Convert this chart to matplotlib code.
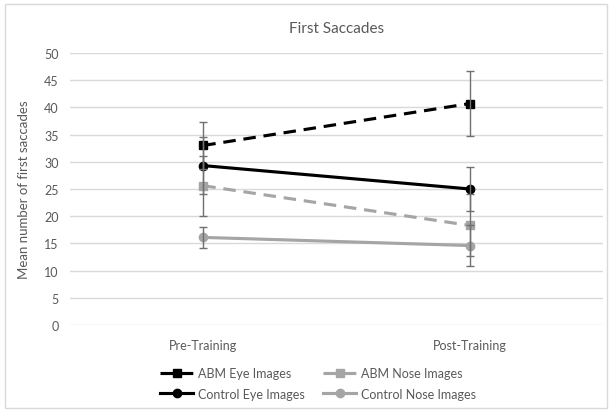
import matplotlib
matplotlib.use("Agg")
import matplotlib.pyplot as plt
from matplotlib.patches import Rectangle

plt.rcParams['font.family'] = ['Lato', 'DejaVu Sans']

phases = ['Pre-Training', 'Post-Training']

abm_eye = [33.0, 40.7]
abm_eye_err = [4.4, 5.9]
abm_nose = [25.6, 18.3]
abm_nose_err = [5.5, 5.7]
ctrl_eye = [29.3, 25.0]
ctrl_eye_err = [5.3, 4.0]
ctrl_nose = [16.1, 14.6]
ctrl_nose_err = [1.9, 3.7]

BLACK = '#000000'
GRAY = '#a5a5a5'
ERR = '#707070'
TXT = '#595959'

fig = plt.figure(figsize=(6.12, 4.14), dpi=100)
fig.patches.append(Rectangle((0.008, 0.012), 0.984, 0.976, transform=fig.transFigure,
                             fill=False, edgecolor='#d9d9d9', lw=1))
ax = fig.add_axes([0.1144, 0.2126, 0.871, 0.657])

x = list(range(len(phases)))
series = [
    ('ABM Eye Images', abm_eye, abm_eye_err, BLACK, 's', (4, 2.5)),
    ('ABM Nose Images', abm_nose, abm_nose_err, GRAY, 's', (4, 2.5)),
    ('Control Eye Images', ctrl_eye, ctrl_eye_err, BLACK, 'o', None),
    ('Control Nose Images', ctrl_nose, ctrl_nose_err, GRAY, 'o', None),
]

handles = {}
for name, vals, err, col, mk, dash in series:
    ax.errorbar(x, vals, yerr=err, fmt='none', ecolor=ERR, elinewidth=1,
                capsize=3, capthick=1, zorder=4)
    ln, = ax.plot(x, vals, color=col, lw=2.25, marker=mk, markersize=6,
                  label=name, zorder=3)
    if dash:
        ln.set_dashes(dash)
    handles[name] = ln

ax.set_xlim(-0.5, 1.5)
ax.set_ylim(0, 50)
ax.set_yticks(range(0, 51, 5))
ax.set_xticks(x)
ax.set_xticklabels(phases)
ax.yaxis.grid(True, color='#d9d9d9', lw=1)
ax.set_axisbelow(True)
for s in ax.spines.values():
    s.set_visible(False)
ax.tick_params(axis='both', length=0, labelsize=9, labelcolor=TXT, pad=8)
ax.tick_params(axis='x', pad=10)
ax.set_ylabel('Mean number of first saccades', fontsize=9.5, color=TXT, labelpad=10)
ax.set_title('First Saccades', fontsize=11, color=TXT, pad=15)

order = ['ABM Eye Images', 'Control Eye Images', 'ABM Nose Images', 'Control Nose Images']
fig.legend([handles[n] for n in order], order, ncol=2, loc='lower center',
           bbox_to_anchor=(0.52, 0.005), frameon=False, fontsize=9,
           labelcolor=TXT, handlelength=2.6, columnspacing=1.5,
           handletextpad=0.4, labelspacing=0.7)

fig.savefig('out.png', dpi=100)
